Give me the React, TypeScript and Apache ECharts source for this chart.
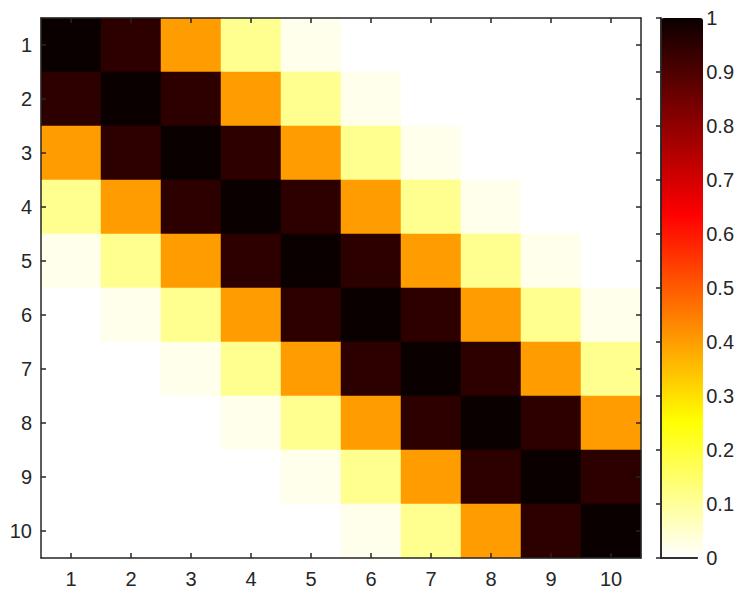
import React, { useEffect, useRef } from "react";
import * as echarts from "echarts";

const colLabels = ["1", "2", "3", "4", "5", "6", "7", "8", "9", "10"];
const rowLabels = ["1", "2", "3", "4", "5", "6", "7", "8", "9", "10"];

const matrix: number[][] = [
  [1, 0.95, 0.4, 0.11, 0.02, 0, 0, 0, 0, 0],
  [0.95, 1, 0.95, 0.4, 0.11, 0.02, 0, 0, 0, 0],
  [0.4, 0.95, 1, 0.95, 0.4, 0.11, 0.02, 0, 0, 0],
  [0.11, 0.4, 0.95, 1, 0.95, 0.4, 0.11, 0.02, 0, 0],
  [0.02, 0.11, 0.4, 0.95, 1, 0.95, 0.4, 0.11, 0.02, 0],
  [0, 0.02, 0.11, 0.4, 0.95, 1, 0.95, 0.4, 0.11, 0.02],
  [0, 0, 0.02, 0.11, 0.4, 0.95, 1, 0.95, 0.4, 0.11],
  [0, 0, 0, 0.02, 0.11, 0.4, 0.95, 1, 0.95, 0.4],
  [0, 0, 0, 0, 0.02, 0.11, 0.4, 0.95, 1, 0.95],
  [0, 0, 0, 0, 0, 0.02, 0.11, 0.4, 0.95, 1],
];

const colorMin = 0;
const colorMax = 1;
const colorStep = 0.1;

// reversed "hot" colormap with 64 levels (white -> yellow -> red -> black)
function hotReversed(n: number): string[] {
  const nr = Math.round((3 * n) / 8);
  const ng = nr;
  const nb = n - nr - ng;
  const out: string[] = [];
  for (let i = 0; i < n; i++) {
    const r = i < nr ? (i + 1) / nr : 1;
    const g = i < nr ? 0 : i < nr + ng ? (i - nr + 1) / ng : 1;
    const b = i < nr + ng ? 0 : (i - nr - ng + 1) / nb;
    const h = (v: number) => Math.round(v * 255).toString(16).padStart(2, "0");
    out.push("#" + h(r) + h(g) + h(b));
  }
  return out.reverse();
}

const AX = "#262626";
const FONT = "Liberation Sans";

export default function App() {
  const ref = useRef<HTMLDivElement>(null);
  useEffect(() => {
    if (!ref.current) return;
    const chart = echarts.init(ref.current, undefined, { renderer: "svg" });
    const data: [number, number, number][] = [];
    matrix.forEach((row, r) => row.forEach((v, c) => data.push([c, r, v])));

    const labelStyle = { color: AX, fontFamily: FONT, fontSize: 20 };
    const axLine = { show: true, lineStyle: { color: AX, width: 1.5 } };
    const tick = { show: true, inside: true, alignWithLabel: true, length: 5, lineStyle: { color: AX, width: 1.5 } };

    chart.setOption({
      animation: false,
      backgroundColor: "#ffffff",
      grid: [
        { left: 41, top: 18, width: 600, height: 540, containLabel: false },
        { left: 661, top: 18, width: 42, height: 540, containLabel: false },
      ],
      xAxis: [
        {
          type: "category",
          data: colLabels,
          gridIndex: 0,
          position: "bottom",
          z: 5,
          axisLine: axLine,
          axisTick: tick,
          axisLabel: { ...labelStyle, margin: 11 },
          splitLine: { show: false },
        },
        {
          type: "category",
          data: colLabels,
          gridIndex: 0,
          position: "top",
          z: 5,
          axisLine: axLine,
          axisTick: tick,
          axisLabel: { show: false },
          splitLine: { show: false },
        },
        {
          type: "value",
          gridIndex: 1,
          min: 0,
          max: 1,
          position: "bottom",
          z: 6,
          axisLine: axLine,
          axisTick: { show: false },
          axisLabel: { show: false },
          splitLine: { show: false },
        },
        {
          type: "value",
          gridIndex: 1,
          min: 0,
          max: 1,
          position: "top",
          z: 6,
          axisLine: axLine,
          axisTick: { show: false },
          axisLabel: { show: false },
          splitLine: { show: false },
        },
      ],
      yAxis: [
        {
          type: "category",
          data: rowLabels,
          inverse: true,
          gridIndex: 0,
          position: "left",
          z: 5,
          axisLine: axLine,
          axisTick: tick,
          axisLabel: { ...labelStyle, margin: 9 },
          splitLine: { show: false },
        },
        {
          type: "category",
          data: rowLabels,
          inverse: true,
          gridIndex: 0,
          position: "right",
          z: 5,
          axisLine: axLine,
          axisTick: tick,
          axisLabel: { show: false },
          splitLine: { show: false },
        },
        {
          type: "value",
          gridIndex: 1,
          min: colorMin,
          max: colorMax,
          interval: colorStep,
          position: "right",
          z: 6,
          axisLine: axLine,
          axisTick: { show: true, inside: true, length: 5, lineStyle: { color: AX, width: 1.5 } },
          axisLabel: { ...labelStyle, margin: 9 },
          splitLine: { show: false },
        },
        {
          type: "value",
          gridIndex: 1,
          min: colorMin,
          max: colorMax,
          position: "left",
          z: 6,
          axisLine: axLine,
          axisTick: { show: false },
          axisLabel: { show: false },
          splitLine: { show: false },
        },
      ],
      visualMap: {
        type: "continuous",
        min: colorMin,
        max: colorMax,
        seriesIndex: 0,
        calculable: false,
        realtime: false,
        left: 661,
        top: 18,
        itemWidth: 42,
        itemHeight: 540,
        padding: 0,
        showLabel: false,
        inRange: { color: hotReversed(64) },
        z: 4,
      },
      series: [
        {
          type: "heatmap",
          xAxisIndex: 0,
          yAxisIndex: 0,
          data,
          itemStyle: { borderWidth: 0 },
          emphasis: { disabled: true },
        },
      ],
    });
    return () => chart.dispose();
  }, []);
  return (
    <div
      ref={ref}
      style={{ position: "fixed", left: 0, top: 0, width: 737, height: 593, background: "#fff" }}
    />
  );
}
